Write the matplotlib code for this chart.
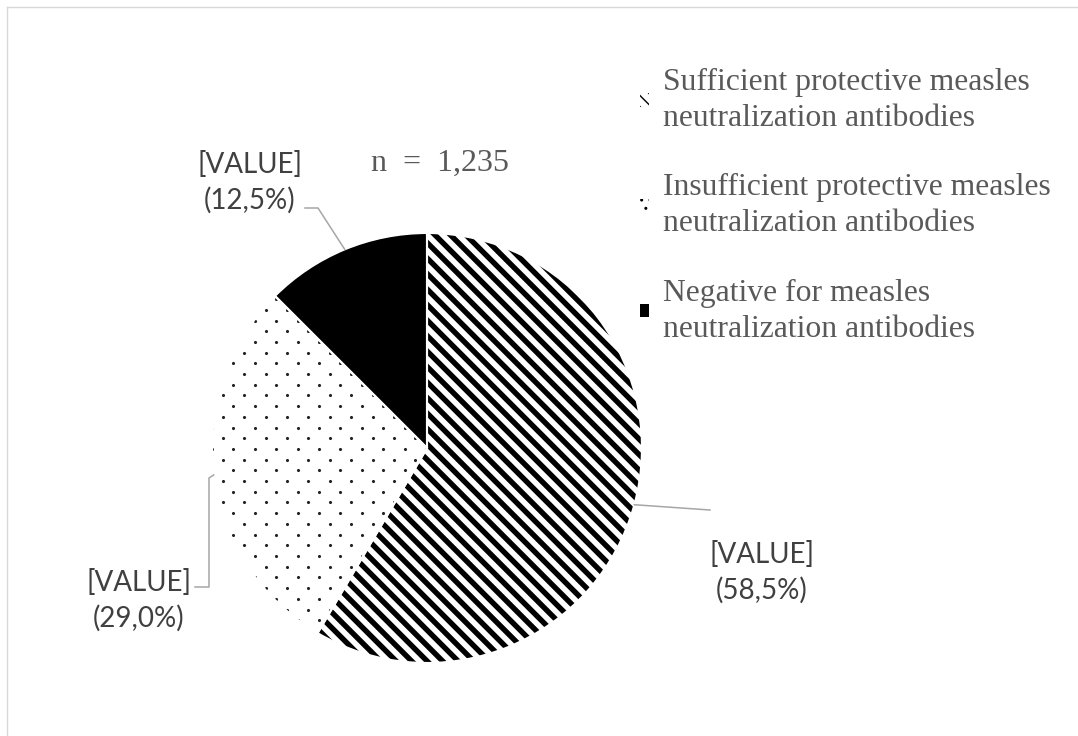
import matplotlib.pyplot as plt
import numpy as np
from matplotlib.collections import LineCollection
from matplotlib.patches import Patch

# data
categories = ['Sufficient protective measles\nneutralization antibodies',
              'Insufficient protective measles\nneutralization antibodies',
              'Negative for measles\nneutralization antibodies']
shares = [58.5, 29.0, 12.5]
n_total = '1,235'

W, H = 1078, 736
def py(y):
    return H - y

fig = plt.figure(figsize=(W / 100, H / 100), dpi=100)
ax = fig.add_axes([0, 0, 1, 1])

cx, cy, r = 427, py(448), 215
wedges, _ = ax.pie(shares, colors=['white', 'white', 'black'], startangle=90,
                   counterclock=False, radius=r, center=(cx, cy),
                   wedgeprops=dict(edgecolor='none', zorder=1))

# diagonal stripes for first wedge
step = 15.5
cs = np.arange(cx + cy - 2 * r, cx + cy + 2 * r, step)
x0, x1 = cx - r - 20, cx + r + 20
segs = [[(x0, c - x0), (x1, c - x1)] for c in cs]
lc = LineCollection(segs, colors='black', linewidths=3.9, zorder=2)
ax.add_collection(lc)
lc.set_clip_path(wedges[0])

# dotted fill for second wedge
dy = 10.7
xs, ys = [], []
for i, yy in enumerate(np.arange(cy - r, cy + r, dy)):
    for xx in np.arange(cx - r + (i % 2) * dy, cx + r, 2 * dy):
        xs.append(xx)
        ys.append(yy)
sc = ax.scatter(xs, ys, s=5, color='#222222', linewidths=0, zorder=2)
sc.set_clip_path(wedges[1])

# white separators
ax.pie(shares, startangle=90, counterclock=False, radius=r, center=(cx, cy),
       wedgeprops=dict(fill=False, edgecolor='white', linewidth=1.5, zorder=3))

ax.set_xlim(0, W)
ax.set_ylim(0, H)
ax.set_aspect('equal')
ax.axis('off')

# data labels with leader lines
label_pos = [(762, 572), (139, 600), (250, 182)]
leaders = [[(710, 510)], [(195, 587), (209, 587), (209, 478)], [(305, 208), (318, 208)]]
for w, v, (lx, ly), pts in zip(wedges, shares, label_pos, leaders):
    th = np.deg2rad((w.theta1 + w.theta2) / 2)
    ex, ey = cx + r * np.cos(th), cy + r * np.sin(th)
    px = [p[0] for p in pts] + [ex]
    pyy = [py(p[1]) for p in pts] + [ey]
    ax.plot(px, pyy, color='#a6a6a6', lw=1.1, zorder=4)
    txt = '[VALUE]\n(' + f'{v:.1f}'.replace('.', ',') + '%)'
    ax.text(lx, py(ly), txt, ha='center', va='center', multialignment='center',
            fontsize=20, family='Lato', color='#404040', linespacing=1.4)

ax.text(440, py(163), 'n  =  ' + n_total, ha='center', va='center',
        fontsize=23, family='Liberation Serif', color='#595959')

# legend
handles = [Patch(facecolor='white', edgecolor='black', linewidth=0, hatch='\\\\\\'),
           Patch(facecolor='white', edgecolor='black', linewidth=0, hatch='..'),
           Patch(facecolor='black', edgecolor='black', linewidth=0)]
leg = fig.legend(handles, categories, loc='upper left',
                 bbox_to_anchor=(640 / W, 1 - 68 / H), frameon=False,
                 prop={'family': 'Liberation Serif', 'size': 22.8},
                 handlelength=0.28, handleheight=0.28, handletextpad=0.45,
                 labelspacing=1.27, borderpad=0, borderaxespad=0)
for t in leg.get_texts():
    t.set_color('#595959')
    t.set_linespacing(1.32)

# chart frame
fig.add_artist(plt.Line2D([7 / W, 7 / W], [0, 1 - 7 / H], color='#d9d9d9', lw=1))
fig.add_artist(plt.Line2D([7 / W, 1], [1 - 7 / H, 1 - 7 / H], color='#d9d9d9', lw=1))

fig.savefig('out.png', dpi=100)
